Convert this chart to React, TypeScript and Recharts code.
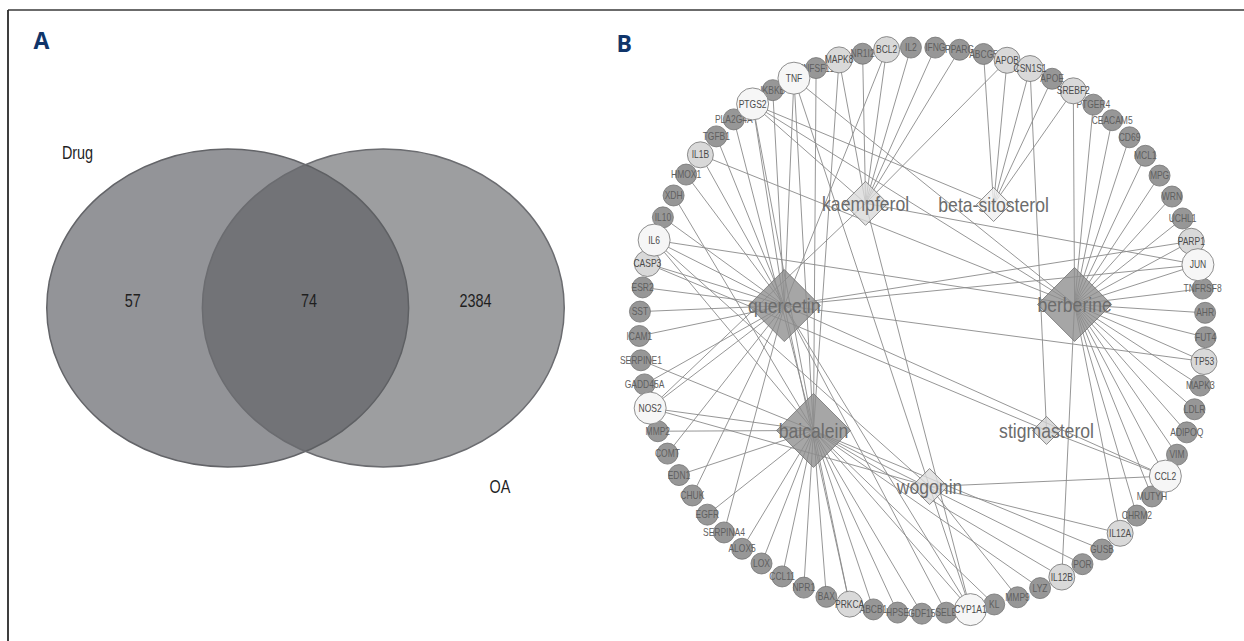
import React from 'react';
import { ComposedChart, Scatter, Line, XAxis, YAxis } from 'recharts';

/* ---------------- Panel A: Venn diagram ---------------- */
const vennSetNames = ['Drug', 'OA'];
const vennRegionCounts = [57, 74, 2384]; // Drug only, shared, OA only

// diagram layout in set-radius units
const vennSetCentreX = [-0.43, 0.43];
const vennSetNameAnchorX = [-1.26, 1.075];
const vennSetNameAnchorY = [0.98, -1.12];
const vennCountAnchorX = [-0.955, 0.02, 0.94];
const VENN_COUNT_Y = 0.05;

const VENN_W = 579;
const VENN_H = 604;
const VENN_XDOM: [number, number] = [-1.6, 1.6];
const VENN_YDOM: [number, number] = [-1.9, 1.9];
const VENN_PX_X = VENN_W / (VENN_XDOM[1] - VENN_XDOM[0]);
const VENN_PX_Y = VENN_H / (VENN_YDOM[1] - VENN_YDOM[0]);

const vennCircleData = vennSetNames.map((name, i) => ({ name, idx: i, x: vennSetCentreX[i], y: 0, r: 1 }));
const vennTextData = [
  ...vennSetNames.map((name, i) => ({ text: name, x: vennSetNameAnchorX[i], y: vennSetNameAnchorY[i] })),
  ...vennRegionCounts.map((c, i) => ({ text: String(c), x: vennCountAnchorX[i], y: VENN_COUNT_Y })),
];

/* ---------------- Panel B: compound–target network ---------------- */
// targets around the ring, clockwise
const targetNames = [
  'TNF', 'TNFSF11', 'MAPK8', 'NR1I2', 'BCL2', 'IL2', 'IFNG', 'PPARG', 'ABCG5', 'APOB',
  'CSN1S1', 'APOE', 'SREBF2', 'PTGER4', 'CEACAM5', 'CD69', 'MCL1', 'MPG', 'WRN', 'UCHL1',
  'PARP1', 'JUN', 'TNFRSF8', 'AHR', 'FUT4', 'TP53', 'MAPK3', 'LDLR', 'ADIPOQ', 'VIM',
  'CCL2', 'MUTYH', 'CHRM2', 'IL12A', 'GUSB', 'POR', 'IL12B', 'LYZ', 'MMP9', 'KL',
  'CYP1A1', 'SELE', 'GDF15', 'HPSE', 'ABCB1', 'PRKCA', 'BAX', 'NPR1', 'CCL11', 'LOX',
  'ALOX5', 'SERPINA4', 'EGFR', 'CHUK', 'EDN1', 'COMT', 'MMP2', 'NOS2', 'GADD45A', 'SERPINE1',
  'ICAM1', 'SST', 'ESR2', 'CASP3', 'IL6', 'IL10', 'XDH', 'HMOX1', 'IL1B', 'TGFB1',
  'PLA2G4A', 'PTGS2', 'IKBKB',
];

const compoundNames = ['quercetin', 'kaempferol', 'beta-sitosterol', 'berberine', 'stigmasterol', 'wogonin', 'baicalein'];

const quercetinTargets = ['TNF', 'IKBKB', 'PTGS2', 'TGFB1', 'IL1B', 'HMOX1', 'IL10', 'IL6', 'CASP3', 'ESR2', 'SST', 'ICAM1', 'GADD45A', 'NOS2', 'COMT', 'CHUK', 'SERPINA4', 'PRKCA', 'SELE', 'CYP1A1', 'CCL2', 'TP53', 'JUN', 'PARP1', 'BCL2'];
const kaempferolTargets = ['MAPK8', 'NR1I2', 'BCL2', 'IL2', 'IFNG', 'PPARG', 'APOB', 'PTGS2', 'JUN', 'NOS2', 'CYP1A1'];
const betaSitosterolTargets = ['PTGS2', 'ABCG5', 'APOB', 'CSN1S1', 'APOE', 'SREBF2'];
const berberineTargets = ['SREBF2', 'PTGER4', 'CEACAM5', 'CD69', 'MCL1', 'MPG', 'WRN', 'UCHL1', 'PARP1', 'JUN', 'TNFRSF8', 'AHR', 'FUT4', 'TP53', 'MAPK3', 'LDLR', 'ADIPOQ', 'VIM', 'CCL2', 'MUTYH', 'CHRM2', 'IL12A', 'IL12B', 'IL1B', 'TNF', 'PTGS2', 'IL6'];
const stigmasterolTargets = ['CSN1S1', 'CASP3', 'CCL2'];
const wogoninTargets = ['TNF', 'IL6', 'NOS2', 'CCL2', 'IL12A', 'MMP9', 'CYP1A1'];
const baicaleinTargets = ['TNFSF11', 'MAPK8', 'TNF', 'PTGS2', 'PLA2G4A', 'XDH', 'IL6', 'SERPINE1', 'NOS2', 'MMP2', 'EDN1', 'EGFR', 'ALOX5', 'LOX', 'CCL11', 'NPR1', 'BAX', 'PRKCA', 'ABCB1', 'HPSE', 'GDF15', 'CYP1A1', 'KL', 'LYZ', 'IL12B', 'POR', 'GUSB'];

const compoundTargetLists = [
  quercetinTargets, kaempferolTargets, betaSitosterolTargets, berberineTargets,
  stigmasterolTargets, wogoninTargets, baicaleinTargets,
];

// network layout (ring radius = 1, y pointing up)
const RING_START_DEG = -27;
const compoundPlaceX = [-0.488, -0.201, 0.251, 0.537, 0.438, 0.025, -0.385];
const compoundPlaceY = [0.088, 0.449, 0.445, 0.092, -0.353, -0.551, -0.353];

// compound node styling
const compoundFill: Record<string, string> = {
  quercetin: '#8d8d8d',
  berberine: '#8d8d8d',
  baicalein: '#8d8d8d',
  kaempferol: '#d9d9d9',
  wogonin: '#dcdcdc',
  'beta-sitosterol': '#f0f0f0',
  stigmasterol: '#d2d2d2',
};

const NET_SIZE = 623;
const NET_DOM: [number, number] = [-1.1, 1.1];

const degree: Record<string, number> = {};
compoundTargetLists.forEach((list) => list.forEach((t) => { degree[t] = (degree[t] || 0) + 1; }));

const targetPos: Record<string, { x: number; y: number }> = {};
targetNames.forEach((name, i) => {
  const a = ((RING_START_DEG + (i * 360) / targetNames.length) * Math.PI) / 180;
  targetPos[name] = { x: Math.sin(a), y: Math.cos(a) };
});

const targetData = targetNames
  .map((name) => ({
    name,
    x: targetPos[name].x,
    y: targetPos[name].y,
    tier: Math.min((degree[name] || 1) - 1, 2),
  }))
  .sort((a, b) => a.tier - b.tier);

const compoundData = compoundNames.map((name, i) => ({
  name,
  x: compoundPlaceX[i],
  y: compoundPlaceY[i],
  deg: compoundTargetLists[i].length,
}));

const edgeData: { x: number; y: number | null }[] = [];
compoundNames.forEach((_, ci) => {
  compoundTargetLists[ci].forEach((t) => {
    const p = targetPos[t];
    edgeData.push({ x: compoundPlaceX[ci], y: compoundPlaceY[ci] });
    edgeData.push({ x: p.x, y: p.y });
    edgeData.push({ x: p.x, y: null });
  });
});

/* ---------------- shapes ---------------- */
const SANS = "'Liberation Sans', Arial, Helvetica, sans-serif";

const VennEllipse = (props: any) => {
  const { cx, cy, payload } = props;
  const first = payload.idx === 0;
  return (
    <ellipse
      cx={cx}
      cy={cy}
      rx={payload.r * VENN_PX_X}
      ry={payload.r * VENN_PX_Y}
      fill={first ? '#939498' : '#5b5d61'}
      fillOpacity={first ? 1 : 0.6}
      stroke={first ? '#636468' : '#6b6c70'}
      strokeWidth={1.5}
    />
  );
};

const VennText = (props: any) => {
  const { cx, cy, payload } = props;
  return (
    <g transform={`translate(${cx},${cy}) scale(0.78,1)`}>
      <text x={0} y={0} dy="0.36em" textAnchor="middle" fontFamily={SANS} fontSize={18.5} fill="#1f1f1f">
        {payload.text}
      </text>
    </g>
  );
};

const TIER_R = [10.5, 13, 16];
const TIER_FILL = ['#979797', '#d9d9d9', '#f6f6f6'];

const TargetNode = (props: any) => {
  const { cx, cy, payload } = props;
  const t = payload.tier;
  return (
    <g>
      <circle cx={cx} cy={cy} r={TIER_R[t]} fill={TIER_FILL[t]} stroke="#747474" strokeWidth={0.8} />
      <g transform={`translate(${cx},${cy}) scale(0.85,1)`}>
        <text x={0} y={0} dy="0.36em" textAnchor="middle" fontFamily={SANS} fontSize={10} fill={t === 0 ? '#5f5f5f' : '#4a4a4a'}>
          {payload.name}
        </text>
      </g>
    </g>
  );
};

const CompoundNode = (props: any) => {
  const { cx, cy, payload } = props;
  const h = Math.min(11 + payload.deg, 37);
  return (
    <g>
      <polygon
        points={`${cx},${cy - h} ${cx + h},${cy} ${cx},${cy + h} ${cx - h},${cy}`}
        fill={compoundFill[payload.name]}
        fillOpacity={0.78}
        stroke="#717171"
        strokeWidth={0.8}
      />
      <g transform={`translate(${cx},${cy}) scale(0.88,1)`}>
        <text x={0} y={0} dy="0.36em" textAnchor="middle" fontFamily={SANS} fontSize={20} fill="#6c6c6c">
          {payload.name}
        </text>
      </g>
    </g>
  );
};

const NAVY = '#10356a';

export default function App() {
  return (
    <div style={{ position: 'absolute', left: 0, top: 0, width: 1244, height: 641, overflow: 'hidden', background: '#ffffff' }}>
      <svg width={1244} height={641} style={{ position: 'absolute', left: 0, top: 0 }}>
        <line x1={8} y1={10} x2={1244} y2={10} stroke="#3a3a3a" strokeWidth={1.5} />
        <line x1={8} y1={10} x2={8} y2={641} stroke="#2a2a2a" strokeWidth={1.8} />
        <text x={33.5} y={49} fontFamily="'Open Sans', 'DejaVu Sans', sans-serif" fontWeight={700} fontSize={23} fill={NAVY}>A</text>
        <text x={616.5} y={52} fontFamily="'Open Sans', 'DejaVu Sans', sans-serif" fontWeight={700} fontSize={23} fill={NAVY}>B</text>
      </svg>

      <div style={{ position: 'absolute', left: 16.2, top: 5.7 }}>
        <ComposedChart width={VENN_W} height={VENN_H} margin={{ top: 0, right: 0, bottom: 0, left: 0 }}>
          <XAxis type="number" dataKey="x" domain={VENN_XDOM} hide allowDataOverflow />
          <YAxis type="number" dataKey="y" domain={VENN_YDOM} hide allowDataOverflow />
          <Scatter data={vennCircleData} shape={VennEllipse} isAnimationActive={false} />
          <Scatter data={vennTextData} shape={VennText} isAnimationActive={false} />
        </ComposedChart>
      </div>

      <div style={{ position: 'absolute', left: 922 - NET_SIZE / 2, top: 330 - NET_SIZE / 2 }}>
        <ComposedChart width={NET_SIZE} height={NET_SIZE} margin={{ top: 0, right: 0, bottom: 0, left: 0 }}>
          <XAxis type="number" dataKey="x" domain={NET_DOM} hide allowDataOverflow />
          <YAxis type="number" dataKey="y" domain={NET_DOM} hide allowDataOverflow />
          <Line
            data={edgeData}
            dataKey="y"
            type="linear"
            stroke="#8a8a8a"
            strokeWidth={0.9}
            dot={false}
            activeDot={false}
            connectNulls={false}
            isAnimationActive={false}
          />
          <Scatter data={targetData} shape={TargetNode} isAnimationActive={false} />
          <Scatter data={compoundData} shape={CompoundNode} isAnimationActive={false} />
        </ComposedChart>
      </div>
    </div>
  );
}
